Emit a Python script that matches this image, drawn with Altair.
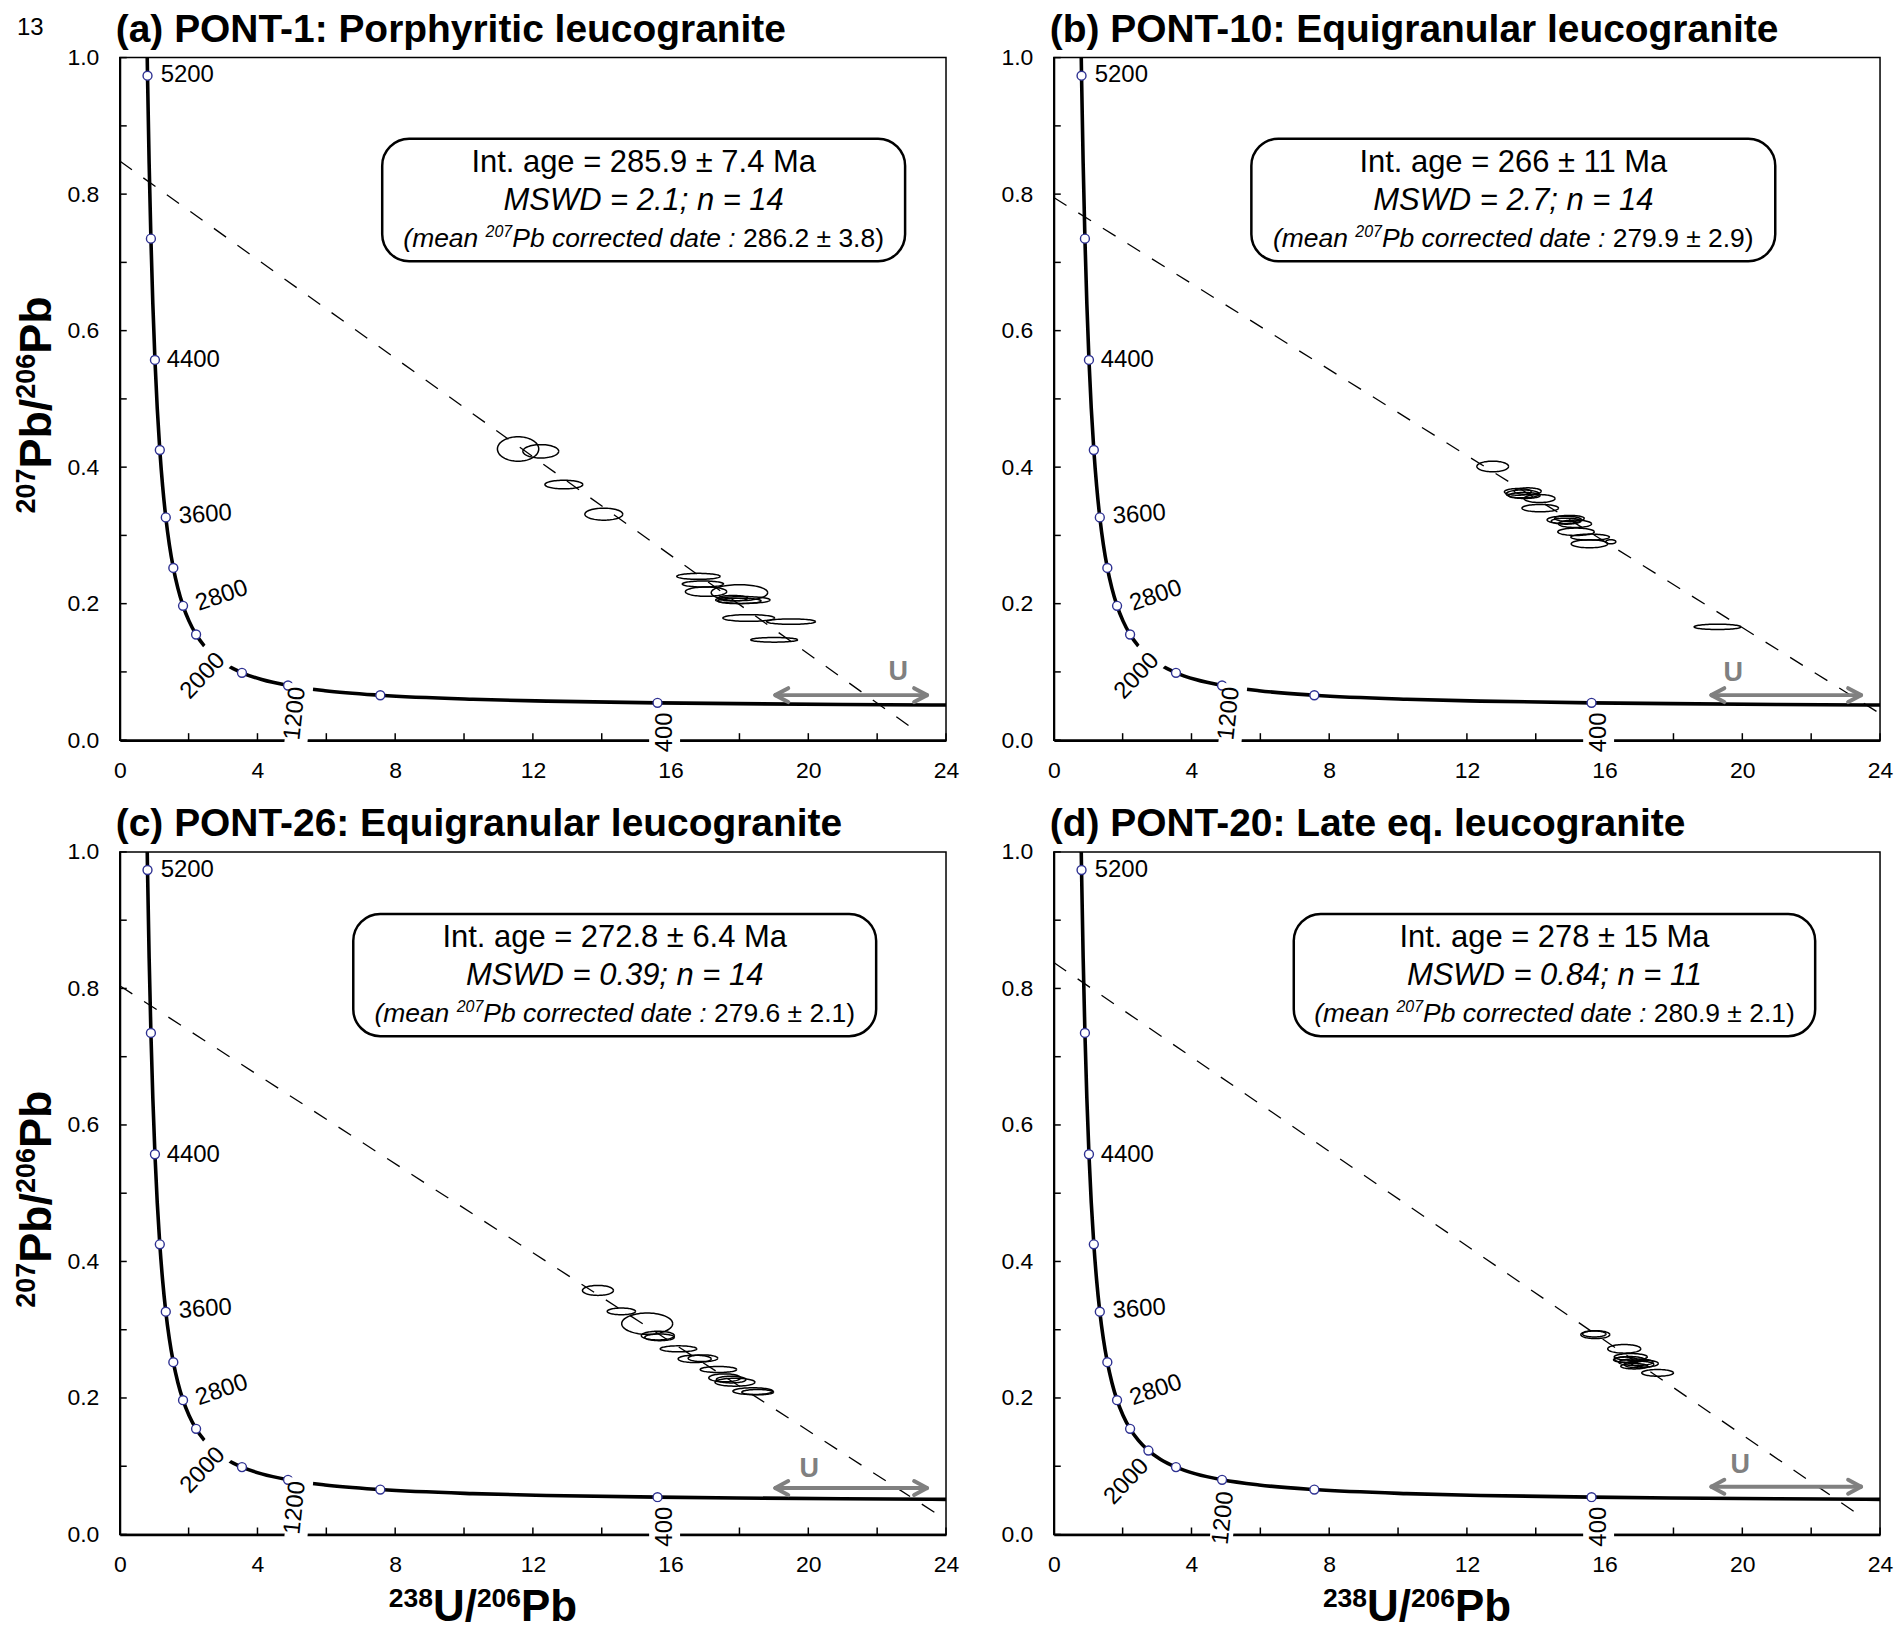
import math
import altair as alt
import numpy as np
import pandas as pd

FONT = "Liberation Sans"
W, H = 828, 684

# ---------------- concordia ----------------
conc_x = [0.784, 0.8062, 0.8532, 0.9046, 0.9604, 1.0217, 1.0888, 1.1632, 1.2453, 1.3369,
          1.4397, 1.5557, 1.6874, 1.8382, 2.0129, 2.2168, 2.4586, 2.7490, 3.1044, 3.5495,
          4.1224, 4.888, 5.959, 7.568, 10.252, 12.399, 15.62, 17.922, 20.992, 25.289]
conc_y = [1.0456, 0.9735, 0.8452, 0.7348, 0.6394, 0.5571, 0.4863, 0.4251, 0.3721, 0.3264,
          0.2867, 0.2524, 0.2227, 0.1968, 0.1744, 0.1548, 0.1378, 0.1230, 0.1100, 0.0987,
          0.0888, 0.0801, 0.0725, 0.0658, 0.0599, 0.0572, 0.0547, 0.0535, 0.0523, 0.0512]
mark_x = [0.8062, 0.9046, 1.0217, 1.1632, 1.3369, 1.5557, 1.8382, 2.2168, 2.7490, 3.5495, 4.888, 7.568, 15.62]
mark_y = [0.9735, 0.7348, 0.5571, 0.4251, 0.3264, 0.2524, 0.1968, 0.1548, 0.1230, 0.0987, 0.0801, 0.0658, 0.0547]

x_tick_vals = [0, 2, 4, 6, 8, 10, 12, 14, 16, 18, 20, 22, 24]
y_tick_vals = [0.0, 0.1, 0.2, 0.3, 0.4, 0.5, 0.6, 0.7, 0.8, 0.9, 1.0]
x_label_vals = [0, 4, 8, 12, 16, 20, 24]
y_label_vals = [0.0, 0.2, 0.4, 0.6, 0.8, 1.0]

# ---------------- panel texts ----------------
titles = ["(a) PONT-1: Porphyritic leucogranite", "(b) PONT-10: Equigranular leucogranite",
          "(c) PONT-26: Equigranular leucogranite", "(d) PONT-20: Late eq. leucogranite"]
int_ages = ["Int. age = 285.9 ± 7.4 Ma", "Int. age = 266 ± 11 Ma",
            "Int. age = 272.8 ± 6.4 Ma", "Int. age = 278 ± 15 Ma"]
mswds = ["MSWD = 2.1; n = 14", "MSWD = 2.7; n = 14", "MSWD = 0.39; n = 14", "MSWD = 0.84; n = 11"]
mean_dates = ["286.2 ± 3.8)", "279.9 ± 2.9)", "279.6 ± 2.1)", "280.9 ± 2.1)"]

# ---------------- discordia lines ----------------
disc_x0 = [0.0, 0.0, 0.0, 0.0]
disc_y0 = [0.8485, 0.795, 0.804, 0.838]
disc_x1 = [23.1, 24.0, 24.0, 23.3]
disc_y1 = [0.0146, 0.039, 0.0216, 0.0318]

# ---------------- "U" arrows ----------------
arrow_x1 = [19.04, 19.1, 19.04, 19.1]
arrow_x2 = [23.45, 23.45, 23.45, 23.45]
arrow_y = [0.066, 0.066, 0.068, 0.070]

# ---------------- error ellipses ----------------
a_cx = [11.57, 12.23, 12.90, 14.06, 16.81, 16.94, 17.03, 18.00, 18.10, 18.00, 17.81, 18.27, 19.50, 19.01]
a_cy = [0.4266, 0.4232, 0.3745, 0.3311, 0.2400, 0.2288, 0.2176, 0.2161, 0.2054, 0.2040, 0.2080, 0.1790, 0.1737, 0.1470]
a_rx = [0.60, 0.52, 0.55, 0.55, 0.63, 0.60, 0.60, 0.82, 0.79, 0.63, 0.43, 0.75, 0.71, 0.68]
a_ry = [0.018, 0.0098, 0.0063, 0.0088, 0.0044, 0.0044, 0.0068, 0.0117, 0.0050, 0.0040, 0.0040, 0.0049, 0.0040, 0.0034]

b_cx = [12.75, 13.48, 13.62, 13.67, 13.77, 14.11, 14.13, 14.83, 14.88, 14.98, 15.14, 15.17, 15.58, 15.56, 16.18, 19.28]
b_cy = [0.4010, 0.3638, 0.3608, 0.3585, 0.3648, 0.3540, 0.3400, 0.3228, 0.3209, 0.3249, 0.3170, 0.3053, 0.2975, 0.2877, 0.2907, 0.1660]
b_rx = [0.46, 0.39, 0.48, 0.46, 0.39, 0.45, 0.53, 0.50, 0.43, 0.43, 0.48, 0.53, 0.56, 0.53, 0.145, 0.68]
b_ry = [0.0078, 0.0049, 0.0058, 0.0044, 0.0049, 0.0058, 0.0054, 0.0054, 0.0044, 0.0044, 0.0054, 0.0054, 0.0044, 0.0058, 0.0030, 0.0039]

c_cx = [13.89, 14.57, 15.32, 15.63, 15.68, 16.23, 16.70, 16.94, 17.39, 17.57, 17.76, 17.87, 18.39, 18.53]
c_cy = [0.3576, 0.3269, 0.3089, 0.2914, 0.2889, 0.2720, 0.2573, 0.2582, 0.2417, 0.2295, 0.2270, 0.2231, 0.2100, 0.2085]
c_rx = [0.45, 0.41, 0.74, 0.48, 0.43, 0.53, 0.48, 0.43, 0.53, 0.46, 0.43, 0.58, 0.58, 0.46]
c_ry = [0.0073, 0.0049, 0.0156, 0.0063, 0.0049, 0.0044, 0.0054, 0.0049, 0.0044, 0.0058, 0.0049, 0.0058, 0.0049, 0.0039]

d_cx = [15.73, 15.70, 16.57, 16.76, 16.72, 16.91, 17.00, 17.17, 16.86, 17.54, 16.60]
d_cy = [0.2928, 0.2938, 0.2720, 0.2602, 0.2563, 0.2524, 0.2490, 0.2504, 0.2465, 0.2368, 0.2560]
d_rx = [0.42, 0.34, 0.48, 0.48, 0.43, 0.50, 0.43, 0.39, 0.39, 0.46, 0.34]
d_ry = [0.0058, 0.0044, 0.0063, 0.0049, 0.0044, 0.0049, 0.0049, 0.0049, 0.0039, 0.0049, 0.0039]

ELL = [(a_cx, a_cy, a_rx, a_ry), (b_cx, b_cy, b_rx, b_ry), (c_cx, c_cy, c_rx, c_ry), (d_cx, d_cy, d_rx, d_ry)]

# ---------------- layout (pixels, relative to each plot area) ----------------
box_x1 = [263, 198, 234, 240.5]
box_x2 = [787, 723, 758, 763]
box_y1 = [81.4, 81.4, 62.1, 62.1]
box_y2 = [204.0, 204.0, 184.6, 184.6]
u_px = [780, 681, 691, 688]
u_py = [624, 625, 626, 622.4]

# Arial / Liberation Sans advance widths (1/1000 em)
AR = {' ': 278, '(': 333, ')': 333, '.': 278, ':': 278, ';': 278, '=': 584, '±': 549, '/': 278,
      'a': 556, 'b': 556, 'c': 500, 'd': 556, 'e': 556, 'g': 556, 'h': 556, 'i': 222, 'l': 222,
      'm': 833, 'n': 556, 'o': 556, 'r': 333, 't': 278, 'u': 556, 'P': 667, 'M': 833, 'S': 667,
      'W': 944, 'D': 722, 'U': 722, 'I': 278}
AB = {'/': 278, 'P': 667, 'b': 611, 'U': 722, ' ': 278}


def tw(s, size, bold=False):
    tbl = AB if bold else AR
    return sum(tbl.get(ch, 556) for ch in s) * size / 1000.0


ONE = pd.DataFrame({"k": [0]})
XS = alt.Scale(domain=[0, 24], nice=False, zero=False)
YS = alt.Scale(domain=[0, 1], nice=False, zero=False)
XA = alt.Axis(values=x_label_vals, title=None, ticks=False, tickSize=0, grid=False,
              labelFont=FONT, labelFontSize=23, labelColor="black", labelPadding=19,
              labelOverlap=False, labelFlush=False, domainColor="black", domainWidth=2.5)
YA = alt.Axis(values=y_label_vals, format=".1f", title=None, ticks=False, tickSize=0, grid=False,
              labelFont=FONT, labelFontSize=23, labelColor="black", labelPadding=21,
              labelOverlap=False, labelFlush=False, domainColor="black", domainWidth=2)


def X(f):
    return alt.X(f, type="quantitative", scale=XS, axis=XA)


def Y(f):
    return alt.Y(f, type="quantitative", scale=YS, axis=YA)


def txt(px, py, s, size, weight="normal", style="normal", angle=0, align="left",
        baseline="alphabetic", color="black"):
    return alt.Chart(ONE).mark_text(font=FONT, fontSize=size, fontWeight=weight, fontStyle=style,
                                    angle=angle % 360, align=align, baseline=baseline,
                                    color=color).encode(
        x=alt.value(px), y=alt.value(py), text=alt.value(s))


def mask(cx, cy, ang, length, thick):
    ux, uy = math.cos(math.radians(ang)), math.sin(math.radians(ang))
    return alt.Chart(ONE).mark_rule(color="white", strokeWidth=thick, strokeCap="butt").encode(
        x=alt.value(cx - ux * length / 2), y=alt.value(cy - uy * length / 2),
        x2=alt.value(cx + ux * length / 2), y2=alt.value(cy + uy * length / 2))


def hcompose(cx, base_y, pieces):
    # pieces: (text, size, bold, italic, raise)
    total = sum(tw(p[0], p[1], p[2]) for p in pieces)
    x = cx - total / 2
    out = []
    for s, size, bold, ital, rs in pieces:
        out.append(txt(x, base_y - rs, s, size, "bold" if bold else "normal",
                       "italic" if ital else "normal"))
        x += tw(s, size, bold)
    return out


def vcompose(base_x, cy, pieces):
    total = sum(tw(p[0], p[1], True) for p in pieces)
    y = cy + total / 2
    out = []
    for s, size, rs in pieces:
        out.append(txt(base_x - rs, y, s, size, "bold", angle=270))
        y -= tw(s, size, True)
    return out


def ellipse_df(cx, cy, rx, ry):
    rows = []
    t = np.linspace(0, 2 * np.pi, 73)
    for i, (a, b, c, d) in enumerate(zip(cx, cy, rx, ry)):
        for j, tt in enumerate(t):
            rows.append({"id": i, "o": j, "x": a + c * np.cos(tt), "y": b + d * np.sin(tt)})
    return pd.DataFrame(rows)


def panel(i):
    L = []
    L.append(alt.Chart(pd.DataFrame({"v": x_tick_vals})).mark_rule(color="black", strokeWidth=1.5)
             .encode(x=X("v"), y=alt.value(H), y2=alt.value(H - 7)))
    L.append(alt.Chart(pd.DataFrame({"v": y_tick_vals})).mark_rule(color="black", strokeWidth=1.5)
             .encode(y=Y("v"), x=alt.value(0), x2=alt.value(7)))
    dd = pd.DataFrame({"x": [disc_x0[i], disc_x1[i]], "y": [disc_y0[i], disc_y1[i]]})
    L.append(alt.Chart(dd).mark_line(color="black", strokeWidth=1.3, strokeDash=[15, 14], clip=True)
             .encode(x=X("x"), y=Y("y")))
    cd = pd.DataFrame({"x": conc_x, "y": conc_y})
    L.append(alt.Chart(cd).mark_line(color="black", strokeWidth=3.6, interpolate="monotone", clip=True)
             .encode(x=X("x"), y=Y("y")))
    md = pd.DataFrame({"x": mark_x, "y": mark_y})
    L.append(alt.Chart(md).mark_point(shape="circle", filled=True, fill="white", stroke="#2e3192",
                                      strokeWidth=1.4, size=80, opacity=1)
             .encode(x=X("x"), y=Y("y")))
    # masks behind age labels
    if i < 3:
        L.append(mask(81.1, 617.6, -46.7, 56, 33))
        L.append(mask(179.5, 657.7, -84, 60, 23))
    else:
        L.append(mask(170, 667.6, -84, 55, 23))
    L.append(mask(546, 675, -90, 46, 31))
    # age labels
    L.append(txt(41, 17.8, "5200", 24, baseline="middle"))
    L.append(txt(47, 303.5, "4400", 24, baseline="middle"))
    L.append(txt(59, 460, "3600", 24, angle=-4, baseline="middle"))
    L.append(txt(77, 548, "2800", 24, angle=-19, baseline="middle"))
    if i < 3:
        L.append(txt(83.3, 619.7, "2000", 24, angle=-46.7, align="center", baseline="middle"))
        L.append(txt(175.7, 657.3, "1200", 24, angle=-84, align="center", baseline="middle"))
    else:
        L.append(txt(73, 631, "2000", 24, angle=-46.7, align="center", baseline="middle"))
        L.append(txt(170, 667.6, "1200", 24, angle=-84, align="center", baseline="middle"))
    L.append(txt(546.3, 676.2, "400", 24, angle=-90, align="center", baseline="middle"))
    # ellipses
    ed = ellipse_df(*ELL[i])
    L.append(alt.Chart(ed).mark_line(color="black", strokeWidth=1.5)
             .encode(x=X("x"), y=Y("y"), detail="id:N", order="o:Q"))
    # box
    L.append(alt.Chart(ONE).mark_rect(fill="white", stroke="black", strokeWidth=2.5, cornerRadius=27)
             .encode(x=alt.value(box_x1[i]), x2=alt.value(box_x2[i]),
                     y=alt.value(box_y1[i]), y2=alt.value(box_y2[i])))
    bcx = (box_x1[i] + box_x2[i]) / 2
    top = box_y1[i]
    L.append(txt(bcx, top + 33.5, int_ages[i], 31, align="center"))
    L.append(txt(bcx, top + 71.5, mswds[i], 31, style="italic", align="center"))
    L += hcompose(bcx, top + 108, [("(mean ", 26.5, False, True, 0), ("207", 16, False, True, 9.5),
                                   ("Pb corrected date : ", 26.5, False, True, 0),
                                   (mean_dates[i], 26.5, False, False, 0)])
    # U arrow
    ad = pd.DataFrame({"x1": [arrow_x1[i]], "x2": [arrow_x2[i]], "y": [arrow_y[i]]})
    G = "#808080"
    L.append(alt.Chart(ad).mark_rule(color=G, strokeWidth=4).encode(x=X("x1"), x2=alt.X2("x2"), y=Y("y")))
    for dyo in (-7, 7):
        L.append(alt.Chart(ad).mark_rule(color=G, strokeWidth=4, strokeCap="round", x2Offset=13, y2Offset=dyo)
                 .encode(x=X("x1"), x2=alt.X2("x1"), y=Y("y"), y2=alt.Y2("y")))
        L.append(alt.Chart(ad).mark_rule(color=G, strokeWidth=4, strokeCap="round", x2Offset=-13, y2Offset=dyo)
                 .encode(x=X("x2"), x2=alt.X2("x2"), y=Y("y"), y2=alt.Y2("y")))
    L.append(txt(u_px[i], u_py[i], "U", 27, weight="bold", align="center", color=G))
    # title
    L.append(txt(-4, -16, titles[i], 39, weight="bold"))
    # axis titles
    if i in (0, 2):
        L += vcompose(-69, 348, [("207", 27, 16), ("Pb/", 45, 0), ("206", 27, 16), ("Pb", 45, 0)])
    if i in (2, 3):
        L += hcompose(364, 770.4, [("238", 26.5, True, False, 14), ("U/", 44, True, False, 0),
                                   ("206", 26.5, True, False, 14), ("Pb", 44, True, False, 0)])
    if i == 0:
        L.append(txt(-103, -23, "13", 24))
        # invisible anchor fixing the top-left corner of the drawing
        L.append(alt.Chart(ONE).mark_rule(strokeOpacity=0, strokeWidth=1).encode(
            x=alt.value(-110.5), x2=alt.value(-109.5), y=alt.value(-60), y2=alt.value(-60)))
    return alt.layer(*L).properties(width=W, height=H)


chart = alt.concat(panel(0), panel(1), panel(2), panel(3), columns=2,
                   spacing={"row": 112, "column": 108}, bounds="flush",
                   padding={"top": -13, "left": 0, "right": 0, "bottom": 0}
                   ).configure_view(stroke="black", strokeWidth=1.5)

chart.save("out.html", embed_options={"renderer": "svg", "actions": False})
